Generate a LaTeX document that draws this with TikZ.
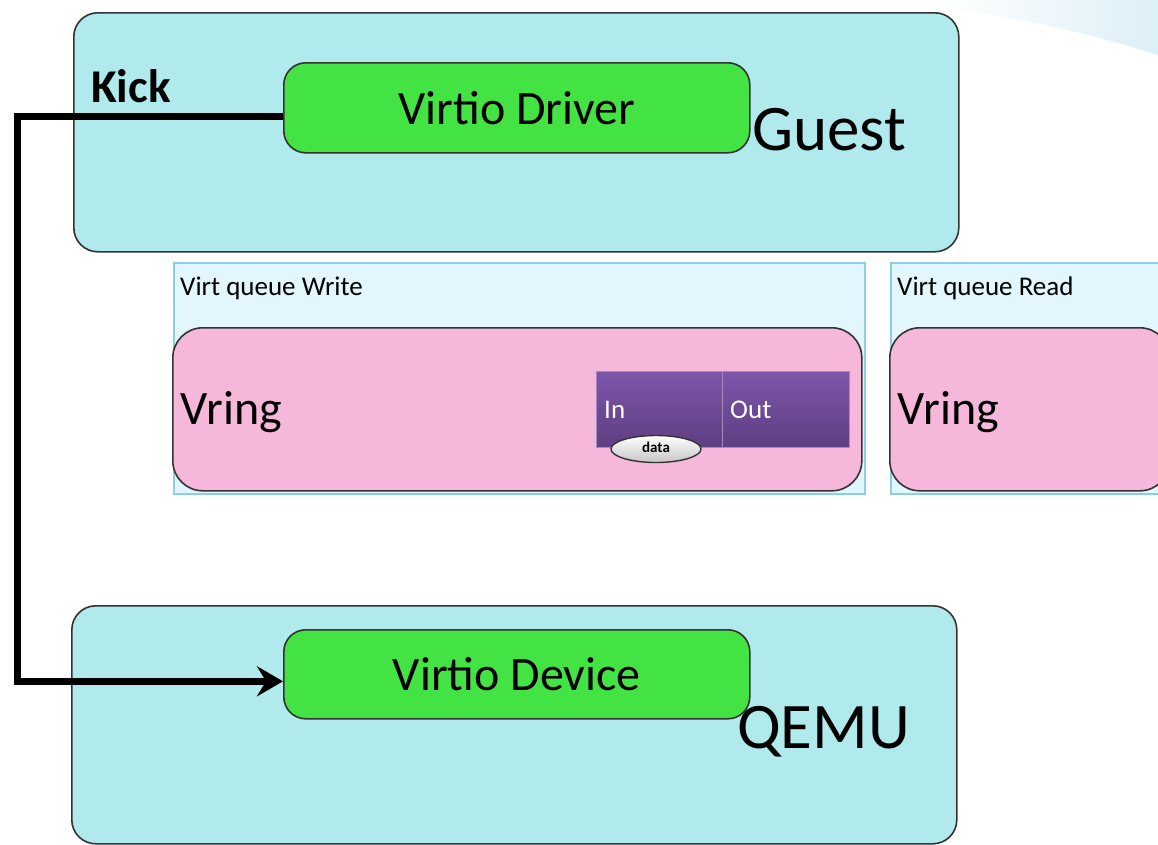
\documentclass[tikz,border=0pt]{standalone}
\usepackage{fontspec}
\setmainfont{Carlito}
\usetikzlibrary{arrows.meta,calc,shapes.geometric}
\definecolor{hostfill}{HTML}{B0EAEC}
\definecolor{greenfill}{HTML}{42E342}
\definecolor{pinkfill}{HTML}{F5B8DA}
\definecolor{qfill}{HTML}{E2F6FE}
\definecolor{qborder}{HTML}{8BCFE0}
\definecolor{purtop}{HTML}{7D56AA}
\definecolor{purbot}{HTML}{5F3F82}
\definecolor{edgegray}{HTML}{333333}
\definecolor{swoosh}{HTML}{DDEFF7}
\tikzset{
  hostbox/.style={draw=edgegray, line width=1.6pt, fill=hostfill, rounded corners=24pt, inner sep=0pt},
  greenbox/.style={draw=edgegray, line width=1.6pt, fill=greenfill, rounded corners=22pt, inner sep=0pt,
    font=\fontsize{48}{50}\selectfont},
  queuebox/.style={draw=qborder, line width=1.6pt, fill=qfill, inner sep=0pt},
  vringbox/.style={draw=edgegray, line width=1.6pt, fill=pinkfill, rounded corners=30pt, inner sep=0pt},
  bigtext/.style={font=\fontsize{65}{67}\selectfont, inner sep=0pt, anchor=base west},
  vringtext/.style={font=\fontsize{48}{50}\selectfont, inner sep=0pt, anchor=base west},
  qtitle/.style={font=\fontsize{27}{29}\selectfont, inner sep=0pt, anchor=base west},
  cell/.style={top color=purtop, bottom color=purbot, draw=purtop!70!white, line width=0.5pt, inner sep=0pt},
  celltext/.style={text=white, font=\fontsize{27}{29}\selectfont, inner sep=0pt, anchor=base west},
  kickline/.style={line width=7pt, -{Stealth[length=26pt,width=30pt,inset=9pt]}},
}
\begin{document}
\begin{tikzpicture}[x=1pt,y=-1pt]
\useasboundingbox (0,0) rectangle (1158,844);
% faint background swoosh top right
\shade[left color=white, right color=swoosh] (940,0) -- (1158,0) -- (1158,55) .. controls (1080,30) and (1000,14) .. (940,8) -- cycle;
% Guest
\node[hostbox, minimum width=885pt, minimum height=239pt, anchor=north west] (guest) at (73,12) {};
\node[greenbox, minimum width=466pt, minimum height=90pt, anchor=north west] (drv) at (283,62) {Virtio Driver};
\node[bigtext] (guestlbl) at (752,150) {Guest};
\node[font=\bfseries\fontsize{47}{49}\selectfont, inner sep=0pt, anchor=base west] (kick) at (91,102) {Kick};
% Virt queue Write
\node[queuebox, minimum width=691pt, minimum height=231pt, anchor=north west] (qw) at (173,262) {};
\node[qtitle] (qwt) at (180,295) {Virt queue Write};
\node[vringbox, minimum width=689pt, minimum height=163pt, anchor=north west] (vw) at (172,327) {};
\node[vringtext] (vwt) at (180,424) {Vring};
\node[cell, minimum width=126pt, minimum height=76pt, anchor=north west] (in) at (596,371) {};
\node[cell, minimum width=127pt, minimum height=76pt, anchor=north west] (out) at (722,371) {};
\node[celltext] (intxt) at (604,418) {In};
\node[celltext] (outtxt) at (730,418) {Out};
\node[ellipse, draw=edgegray, line width=1.4pt, top color=white, bottom color=gray!45, minimum width=90pt, minimum height=27pt, inner sep=0pt,
  font=\bfseries\fontsize{15}{16}\selectfont] (data) at (656,449) {\raisebox{3pt}{data}};
% Virt queue Read
\node[queuebox, minimum width=280pt, minimum height=231pt, anchor=north west] (qr) at (890,262) {};
\node[qtitle] (qrt) at (897,295) {Virt queue Read};
\node[vringbox, minimum width=280pt, minimum height=163pt, anchor=north west] (vr) at (889,327) {};
\node[vringtext] (vrt) at (897,424) {Vring};
% QEMU
\node[hostbox, minimum width=885pt, minimum height=238pt, anchor=north west] (qemu) at (71,605) {};
\node[greenbox, minimum width=466pt, minimum height=89pt, anchor=north west] (dev) at (283,629) {Virtio Device};
\node[bigtext] (qemulbl) at (737,748) {QEMU};
% Kick connector
\coordinate (bend) at (17,400);
\draw[kickline] ($(drv.west)+(0,9)$) -| (bend) |- ($(dev.west)+(0,7)$);
\end{tikzpicture}
\end{document}
